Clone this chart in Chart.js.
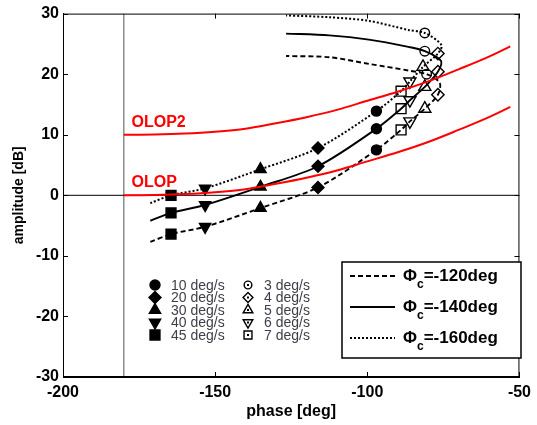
<!DOCTYPE html>
<html>
<head>
<meta charset="utf-8">
<script src="https://cdn.jsdelivr.net/npm/chart.js@4.4.0/dist/chart.umd.min.js"></script>
<style>
  body { margin: 0; background: #fff; }
  canvas { display: block; }
</style>
</head>
<body>
<canvas id="chart" width="537" height="425"></canvas>
<script>
// turn rates along each curve, fast -> slow (deg/s)
const rates = [45, 40, 30, 20, 10, 7, 6, 5, 4, 3];
const phiLabels = ['-120deg', '-140deg', '-160deg'];

// marker positions, one pair of arrays per Phi_c
const mk120Phase = [-164.5, -153.3, -135.1, -116.2, -97.0, -88.9, -86.0, -81.1, -76.8, -80.5];
const mk120Amp   = [-6.4, -5.2, -2.1, 1.3, 7.5, 10.8, 12.2, 14.3, 16.6, 20.0];
const mk140Phase = [-164.5, -153.3, -135.1, -116.2, -97.0, -88.9, -86.0, -81.1, -76.8, -81.1];
const mk140Amp   = [-2.9, -1.6, 1.4, 4.8, 11.0, 14.3, 15.7, 17.9, 20.4, 23.8];
const mk160Phase = [-164.5, -153.3, -135.1, -116.2, -97.0, -88.9, -86.0, -81.7, -76.8, -81.1];
const mk160Amp   = [0.0, 1.15, 4.3, 7.8, 13.9, 17.2, 18.8, 21.2, 23.4, 26.8];

// extra points the lines pass through (start, turning point, upper arc)
const startPhase = -171.3;
const startAmp = [-7.7, -4.2, -1.3];
const turnPhase = [-76.2, -75.8, -75.6];
const turnAmp = [18.6, 22.2, 24.8];
const arcPhase = [-86.5, -99.5, -112.5, -126.7];
const arc120Amp = [20.6, 21.7, 22.8, 23.0];
const arc140Amp = [24.5, 25.7, 26.4, 26.7];
const arc160Amp = [27.3, 28.8, 29.4, 29.7];

// open loop performance boundaries
const olopPhase = [-180, -170, -160, -150, -140, -130, -120, -110, -100, -90, -80, -70, -60, -53];
const olopAmp   = [0, 0.05, 0.2, 0.5, 1.0, 1.9, 2.9, 4.1, 5.6, 7.1, 8.8, 10.8, 12.9, 14.6];
const olop2Amp  = [10, 10.05, 10.2, 10.5, 11.0, 11.9, 12.9, 14.1, 15.6, 17.1, 18.8, 20.8, 22.9, 24.6];

const FONT = "Arial, 'Liberation Sans', sans-serif";

// marker look per rate index
const mStyle  = ['rect', 'triangle', 'triangle', 'rectRot', 'circle', 'rect', 'triangle', 'triangle', 'rectRot', 'circle'];
const mRot    = [0, 180, 0, 0, 0, 0, 180, 0, 0, 0];
const mRadius = [7, 6.5, 6.5, 6, 5, 7, 7, 7, 6.2, 4.8];
const mFill   = rates.map(r => r >= 10 ? '#000' : 'rgba(0,0,0,0)');

function pts(xs, ys) {
    return xs.map((v, i) => ({x: v, y: ys[i]}));
}

function trace(mkPhase, mkAmp, i, arcAmp) {
    const p = [{x: startPhase, y: startAmp[i]}];
    for (let k = 0; k < 9; k++) p.push({x: mkPhase[k], y: mkAmp[k]});
    p.push({x: turnPhase[i], y: turnAmp[i]});
    p.push({x: mkPhase[9], y: mkAmp[9]});
    arcPhase.forEach((v, k) => p.push({x: v, y: arcAmp[k]}));
    return p;
}

const dashes = [[5, 3], [], [2, 2]];
const widths = [1.9, 1.9, 2];

function lineSet(data, i) {
    return {
        data: data, showLine: true, pointRadius: 0, borderColor: '#000',
        borderWidth: widths[i], borderDash: dashes[i], tension: 0.3, order: 5
    };
}

function markerSet(xs, ys) {
    return {
        data: pts(xs, ys), showLine: false,
        pointStyle: mStyle, rotation: mRot, pointRadius: mRadius,
        pointBackgroundColor: mFill, pointBorderColor: '#000', pointBorderWidth: 1.4,
        order: 3
    };
}

const decorations = {
    id: 'decorations',
    afterDraw(chart) {
        const {ctx, chartArea: a, scales: {x, y}} = chart;
        ctx.save();

        // frame and inward ticks
        ctx.strokeStyle = '#000';
        ctx.lineWidth = 1;
        ctx.setLineDash([]);
        ctx.strokeRect(a.left + 0.5, a.top + 0.5, a.right - a.left - 1, a.bottom - a.top - 1);
        ctx.beginPath();
        x.ticks.forEach(t => {
            const px = Math.round(x.getPixelForValue(t.value)) + 0.5;
            ctx.moveTo(px, a.bottom); ctx.lineTo(px, a.bottom - 5);
            ctx.moveTo(px, a.top); ctx.lineTo(px, a.top + 5);
        });
        y.ticks.forEach(t => {
            const py = Math.round(y.getPixelForValue(t.value)) + 0.5;
            ctx.moveTo(a.left, py); ctx.lineTo(a.left + 5, py);
            ctx.moveTo(a.right, py); ctx.lineTo(a.right - 5, py);
        });
        ctx.stroke();

        // OLOP labels
        ctx.fillStyle = '#ff0000';
        ctx.font = 'bold 16px ' + FONT;
        ctx.textBaseline = 'middle';
        ctx.textAlign = 'left';
        ctx.fillText('OLOP2', x.getPixelForValue(-177.5), y.getPixelForValue(12.0));
        ctx.fillText('OLOP', x.getPixelForValue(-177.5), y.getPixelForValue(2.1));

        // rate legend (two columns of markers)
        const rowY = [285, 297.5, 310, 322.5, 335];
        const cols = [{idx: [4, 3, 2, 1, 0], mx: 155, tx: 171}, {idx: [9, 8, 7, 6, 5], mx: 248, tx: 264}];
        ctx.font = '14px ' + FONT;
        cols.forEach(c => {
            c.idx.forEach((k, r) => {
                ctx.fillStyle = mFill[k];
                ctx.strokeStyle = '#000';
                ctx.lineWidth = 1.4;
                const rad = rates[k] < 10 ? mRadius[k] * 0.8 : mRadius[k];
                Chart.helpers.drawPoint(ctx, {pointStyle: mStyle[k], rotation: mRot[k], radius: rad, borderWidth: 1.4}, c.mx, rowY[r]);
                if (rates[k] < 10) {
                    ctx.fillStyle = '#000';
                    ctx.fillRect(c.mx - 1, rowY[r] - 1, 2, 2);
                }
                ctx.fillStyle = '#3e3e4a';
                ctx.fillText(rates[k] + ' deg/s', c.tx, rowY[r] + 1);
            });
        });

        // line style legend box
        ctx.fillStyle = '#fff';
        ctx.fillRect(342, 262, 179, 96);
        ctx.strokeStyle = '#000';
        ctx.lineWidth = 1.5;
        ctx.strokeRect(342, 262, 179, 96);
        const legY = [276, 307, 338];
        legY.forEach((ly, i) => {
            ctx.beginPath();
            ctx.setLineDash(dashes[i]);
            ctx.lineWidth = widths[i];
            ctx.moveTo(350, ly); ctx.lineTo(395, ly);
            ctx.stroke();
            ctx.setLineDash([]);
            ctx.fillStyle = '#000';
            ctx.font = 'bold 17px ' + FONT;
            ctx.fillText('\u03A6', 403, ly);
            const w = ctx.measureText('\u03A6').width;
            ctx.font = 'bold 12px ' + FONT;
            ctx.fillText('c', 403 + w, ly + 9);
            const wc = ctx.measureText('c').width;
            ctx.font = 'bold 17px ' + FONT;
            ctx.fillText('=' + phiLabels[i], 403 + w + wc, ly);
        });

        ctx.restore();
    }
};

new Chart(document.getElementById('chart'), {
    type: 'scatter',
    data: {
        datasets: [
            // reference lines
            {data: [{x: -200, y: 0}, {x: -50, y: 0}], showLine: true, pointRadius: 0, borderColor: '#000', borderWidth: 1, order: 9},
            {data: [{x: -180, y: -30}, {x: -180, y: 30}], showLine: true, pointRadius: 0, borderColor: '#555', borderWidth: 1, order: 9},
            lineSet(trace(mk120Phase, mk120Amp, 0, arc120Amp), 0),
            lineSet(trace(mk140Phase, mk140Amp, 1, arc140Amp), 1),
            lineSet(trace(mk160Phase, mk160Amp, 2, arc160Amp), 2),
            markerSet(mk120Phase, mk120Amp),
            markerSet(mk140Phase, mk140Amp),
            markerSet(mk160Phase, mk160Amp),
            {data: pts(olopPhase, olopAmp), showLine: true, pointRadius: 0, borderColor: '#ff0000', borderWidth: 2, cubicInterpolationMode: 'monotone', order: 1},
            {data: pts(olopPhase, olop2Amp), showLine: true, pointRadius: 0, borderColor: '#ff0000', borderWidth: 2, cubicInterpolationMode: 'monotone', order: 1}
        ]
    },
    options: {
        responsive: false,
        animation: false,
        layout: {padding: {top: 13, right: 11, left: 0, bottom: 0}},
        plugins: {
            legend: {display: false},
            tooltip: {enabled: false}
        },
        scales: {
            x: {
                type: 'linear', min: -200, max: -50,
                ticks: {stepSize: 50, color: '#000', padding: 6, font: {family: FONT, size: 16, weight: 'bold'}},
                grid: {display: false, drawTicks: false},
                border: {display: true, color: '#000'},
                title: {display: true, text: 'phase [deg]', color: '#000', padding: {top: 0, bottom: 4}, font: {family: FONT, size: 16, weight: 'bold'}},
                afterFit: s => { s.height = 48; }
            },
            y: {
                type: 'linear', min: -30, max: 30,
                ticks: {stepSize: 10, color: '#000', padding: 4, font: {family: FONT, size: 16, weight: 'bold'}},
                grid: {display: false, drawTicks: false},
                border: {display: true, color: '#000'},
                title: {display: true, text: 'amplitude [dB]', color: '#000', padding: {top: 11, bottom: 0}, font: {family: FONT, size: 14, weight: 'bold'}},
                afterFit: s => { s.width = 63; }
            }
        }
    },
    plugins: [decorations]
});
</script>
</body>
</html>
